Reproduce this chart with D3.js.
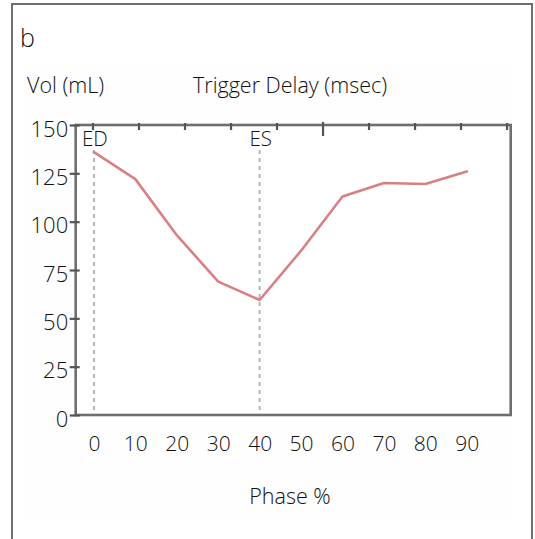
<!DOCTYPE html>
<html>
<head>
<meta charset="utf-8">
<script src="https://cdn.jsdelivr.net/npm/d3@7"></script>
<style>
  html, body { margin: 0; padding: 0; background: #ffffff; }
  svg { display: block; }
  text { font-family: "Open Sans", "Noto Sans", sans-serif; font-weight: 300; fill: #111; }
</style>
</head>
<body>
<svg id="chart" width="535" height="539"></svg>
<script>
// ---- data ----
const phase = [0, 10, 20, 30, 40, 50, 60, 70, 80, 90];
const volume = [136, 122, 93, 69, 59.5, 85, 113, 120, 119.5, 126];
const phaseTicks = [0, 10, 20, 30, 40, 50, 60, 70, 80, 90];
const volTicks = [0, 25, 50, 75, 100, 125, 150];
const delayTicks = [0, 100, 200, 300, 400, 500, 600, 700, 800, 900];
const markers = [{ label: "ED", phase: 0 }, { label: "ES", phase: 40 }];
const panelLabel = "b";
const yTitle = "Vol (mL)";
const topTitle = "Trigger Delay (msec)";
const xTitle = "Phase %";

// ---- layout ----
const svg = d3.select("#chart");
const plot = { left: 75.7, right: 510.7, top: 125, bottom: 415 };

// outer frame (open at bottom)
svg.append("path")
  .attr("d", "M12,539 L12,4 L532,4 L532,539")
  .attr("fill", "none").attr("stroke", "#707070").attr("stroke-width", 2);

// faint panel background
svg.append("rect").attr("x", 24).attr("y", 64).attr("width", 488).attr("height", 455)
  .attr("fill", "#fefefe");

const x = d3.scaleLinear().domain([-4.4, 100.6]).range([plot.left, plot.right]);
const y = d3.scaleLinear().domain([0, 150]).range([plot.bottom, plot.top]);
const xDelay = d3.scaleLinear().domain([-36.5, 909]).range([plot.left, plot.right]);

// plot background
svg.append("rect").attr("x", plot.left).attr("y", plot.top)
  .attr("width", plot.right - plot.left).attr("height", plot.bottom - plot.top)
  .attr("fill", "#ffffff");

// dashed marker lines
svg.selectAll("line.marker").data(markers).join("line")
  .attr("class", "marker")
  .attr("x1", d => x(d.phase)).attr("x2", d => x(d.phase))
  .attr("y1", 150).attr("y2", plot.bottom)
  .attr("stroke", "#b4b6c0").attr("stroke-width", 2).attr("stroke-dasharray", "4,4");

svg.selectAll("text.marker").data(markers).join("text")
  .attr("class", "marker")
  .attr("x", d => x(d.phase) + 1).attr("y", 146)
  .attr("text-anchor", "middle").attr("font-size", 20.5)
  .text(d => d.label);

// data line
const line = d3.line().x((d, i) => x(phase[i])).y(d => y(d));
svg.append("path").datum(volume)
  .attr("d", line)
  .attr("fill", "none").attr("stroke", "#d98084").attr("stroke-width", 2.6)
  .attr("stroke-linejoin", "round").attr("stroke-linecap", "round");

// plot border
svg.append("rect").attr("x", plot.left).attr("y", plot.top)
  .attr("width", plot.right - plot.left).attr("height", plot.bottom - plot.top)
  .attr("fill", "none").attr("stroke", "#6e6e6e").attr("stroke-width", 2.6);

// left axis
const yAxis = d3.axisLeft(y).tickValues(volTicks).tickSize(5).tickPadding(4);
const gy = svg.append("g").attr("transform", `translate(${plot.left},0)`).call(yAxis);
gy.select(".domain").remove();
gy.selectAll(".tick line").attr("stroke", "#555").attr("stroke-width", 2.2).attr("x2", -6).attr("x1", 4);
gy.selectAll(".tick text").attr("font-size", 22).attr("dy", "0.5em").attr("x", -7.5)
  .attr("fill", "#111").attr("font-family", null);

// bottom axis labels only
const xAxis = d3.axisBottom(x).tickValues(phaseTicks).tickSize(0).tickPadding(0);
const gx = svg.append("g").attr("transform", `translate(0,${plot.bottom})`).call(xAxis);
gx.select(".domain").remove();
gx.selectAll(".tick text").attr("font-size", 21).attr("y", 36).attr("dy", 0)
  .attr("fill", "#111").attr("font-family", null);

// top axis ticks (trigger delay, unlabeled)
const tAxis = d3.axisBottom(xDelay).tickValues(delayTicks).tickSize(5).tickFormat("");
const gt = svg.append("g").attr("transform", `translate(0,${plot.top})`).call(tAxis);
gt.select(".domain").remove();
gt.selectAll(".tick line").attr("stroke", "#555").attr("stroke-width", 2.2)
  .attr("y1", d => d === 500 ? -3 : -2).attr("y2", d => d === 500 ? 11 : 5);

// titles
svg.append("text").attr("x", 20).attr("y", 47).attr("font-size", 25).text(panelLabel);
svg.append("text").attr("x", 27).attr("y", 93).attr("font-size", 21.5).text(yTitle);
svg.append("text").attr("x", 193).attr("y", 93).attr("font-size", 21.5).text(topTitle);
svg.append("text").attr("x", 290).attr("y", 504).attr("text-anchor", "middle").attr("font-size", 21.5).text(xTitle);
</script>
</body>
</html>
